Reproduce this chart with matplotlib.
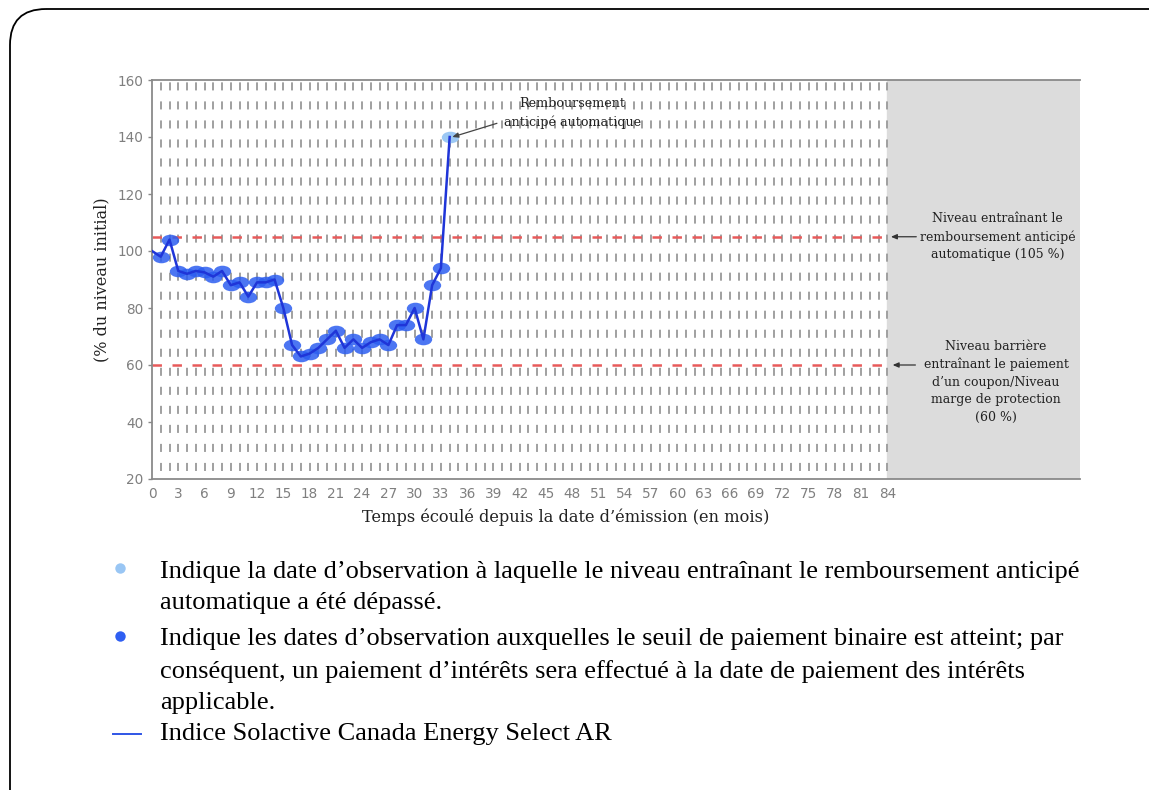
import matplotlib
matplotlib.use('Agg')
import matplotlib.pyplot as plt
from matplotlib.patches import FancyBboxPatch
from matplotlib.markers import MarkerStyle
from matplotlib.path import Path

plt.rcParams['lines.scale_dashes'] = False

# données
mois = list(range(0, 35))
niveaux = [100, 98, 104, 93, 92, 93, 92.5, 91, 93, 88, 89, 84, 89, 89, 90, 80,
           67, 63, 64, 66, 69, 72, 66, 69, 66, 68, 69, 67, 74, 74, 80, 69,
           88, 94, 140]
mois_coupon = list(range(1, 34))
mois_rappel = [34]
niveau_rappel = 105
niveau_barriere = 60
xticks = list(range(0, 85, 3))
yticks = list(range(20, 161, 20))

serif = 'DejaVu Serif'

fig = plt.figure(figsize=(11.49, 7.9), dpi=100)

# cadre arrondi + légende (coordonnées en pixels)
bg = fig.add_axes([0, 0, 1, 1], zorder=-1)
bg.set_xlim(0, 1149)
bg.set_ylim(790, 0)
bg.axis('off')
bg.add_patch(FancyBboxPatch((10, 9), 1180, 820, boxstyle='round,pad=0,rounding_size=36',
                            fc='none', ec='black', lw=1.3))

ax = fig.add_axes([152/1149, 1-479/790, 928/1149, 399/790])
ax.set_xlim(0, 106)
ax.set_ylim(20, 160)

ax.axvspan(84, 106, color='#dcdcdc', zorder=0)
ax.vlines(range(1, 85), 160, 20, colors='#a0a0a0', lw=1.4,
          linestyles=[(12, (5.8, 7.9))], zorder=1)

ax.plot([0, 84], [niveau_rappel]*2, color='#e85a5a', lw=1.8, dashes=(6.8, 7.6), zorder=2)
ax.plot([0, 84], [niveau_barriere]*2, color='#e85a5a', lw=1.8, dashes=(6.8, 7.6), zorder=2)

ellipse = Path(Path.unit_circle().vertices * [1.5, 1.0], Path.unit_circle().codes)
mk = MarkerStyle(ellipse)

yc = [niveaux[m] for m in mois_coupon]
ax.plot(mois_coupon, yc, ls='none', marker=mk, ms=12.5, color='#2c5ef0', alpha=0.85,
        mec='none', zorder=3)
yr = [niveaux[m] for m in mois_rappel]
ax.plot(mois_rappel, yr, ls='none', marker=mk, ms=12.5, color='#9cc8f4', mec='none', zorder=3)
ax.plot(mois, niveaux, color='#1f35d8', lw=1.8, zorder=4)

ax.set_xticks(xticks)
ax.set_yticks(yticks)
ax.tick_params(axis='x', length=0, pad=6, labelsize=9.8, labelcolor='#7f7f7f')
ax.tick_params(axis='y', length=3, width=1, color='#888888', pad=3, labelsize=9.8,
               labelcolor='#7f7f7f')
for s in ['left', 'bottom', 'top']:
    ax.spines[s].set_color('#8a8a8a')
    ax.spines[s].set_linewidth(1.3)
ax.spines['right'].set_visible(False)

ax.set_xlabel('Temps écoulé depuis la date d’émission (en mois)', fontfamily=serif,
              fontsize=11.7, color='#222222')
ax.xaxis.set_label_coords(0.446, -0.075)
ax.set_ylabel('(% du niveau initial)', fontfamily=serif, fontsize=11.5, color='#222222')
ax.yaxis.set_label_coords(-0.045, 0.5)

# annotations
ax.text(48.0, 148.4, 'Remboursement\nanticipé automatique', ha='center', va='center',
        fontfamily=serif, fontsize=9.2, linespacing=1.45, color='#222222', zorder=5)
ax.annotate('', xy=(34.3, 140), xytext=(39.4, 144.8),
            arrowprops=dict(arrowstyle='-|>,head_length=0.35,head_width=0.15',
                            color='#444444', lw=0.9, shrinkA=0, shrinkB=0), zorder=5)

ax.text(96.6, 105, 'Niveau entraînant le\nremboursement anticipé\nautomatique (105 %)',
        ha='center', va='center', fontfamily=serif, fontsize=9, linespacing=1.45,
        color='#222222')
ax.annotate('', xy=(84.4, 105), xytext=(87.3, 105),
            arrowprops=dict(arrowstyle='-|>,head_length=0.35,head_width=0.15',
                            color='#333333', lw=0.9, shrinkA=0, shrinkB=0))

ax.text(96.4, 54, 'Niveau barrière\nentraînant le paiement\nd’un coupon/Niveau\nmarge de protection\n(60 %)',
        ha='center', va='center', fontfamily=serif, fontsize=9, linespacing=1.45,
        color='#222222')
ax.annotate('', xy=(84.6, 60), xytext=(87.2, 60),
            arrowprops=dict(arrowstyle='-|>,head_length=0.35,head_width=0.15',
                            color='#333333', lw=0.9, shrinkA=0, shrinkB=0))

# légende sous le graphique
leg_font = dict(fontfamily='Liberation Serif', fontsize=19, color='black', va='center')
bg.plot([120], [568], marker='o', ms=7.5, color='#99c6f4', mec='none')
bg.plot([120], [636], marker='o', ms=7.5, color='#2f5ff2', mec='none')
bg.plot([113, 141], [734, 734], color='#2f55e6', lw=1.4)
lignes = [
    (572, 'Indique la date d’observation à laquelle le niveau entraînant le remboursement anticipé'),
    (603, 'automatique a été dépassé.'),
    (639, 'Indique les dates d’observation auxquelles le seuil de paiement binaire est atteint; par'),
    (672, 'conséquent, un paiement d’intérêts sera effectué à la date de paiement des intérêts'),
    (703, 'applicable.'),
    (734, 'Indice Solactive Canada Energy Select AR'),
]
for y, t in lignes:
    bg.text(160, y, t, **leg_font)

fig.savefig('out.png', dpi=100)
